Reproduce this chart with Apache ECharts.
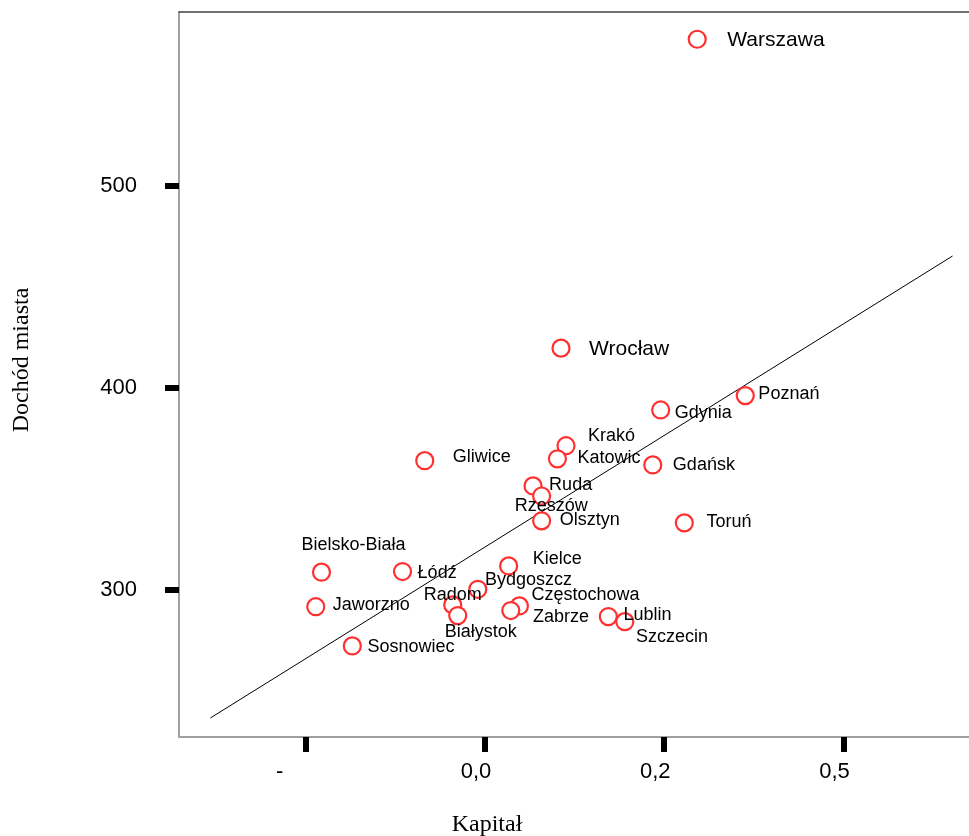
<!DOCTYPE html>
<html>
<head>
<meta charset="utf-8">
<script src="https://cdn.jsdelivr.net/npm/echarts@6/dist/echarts.min.js"></script>
<style>
  html, body { margin: 0; padding: 0; background: #fff; }
  #chart { width: 969px; height: 836px; }
</style>
</head>
<body>
<div id="chart"></div>
<script>
// city names as printed in the chart (some are cut off in the original)
const cities = ["Warszawa", "Wrocław", "Poznań", "Gdynia", "Krakó", "Katowic", "Gdańsk", "Gliwice",
  "Ruda", "Rzeszów", "Olsztyn", "Toruń", "Bielsko-Biała", "Łódź", "Kielce", "Bydgoszcz",
  "Radom", "Białystok", "Jaworzno", "Częstochowa", "Zabrze", "Lublin", "Szczecin", "Sosnowiec"];
const kapital = [0.296, 0.106, 0.363, 0.245, 0.113, 0.101, 0.234, -0.084,
  0.067, 0.079, 0.079, 0.278, -0.228, -0.115, 0.033, -0.010,
  -0.045, -0.038, -0.236, 0.048, 0.036, 0.172, 0.195, -0.185];
const dochod = [572.6, 419.7, 396.2, 389.1, 371.4, 364.9, 361.9, 364.0,
  351.5, 346.5, 334.2, 333.2, 308.8, 309.1, 311.9, 300.3,
  292.6, 287.3, 291.7, 292.1, 289.8, 286.8, 284.3, 272.3];

// fitted line end points
const fitX = [-0.383, 0.652];
const fitY = [236.6, 465.3];

// axis ticks and their printed labels
const xTicks = [-0.25, 0, 0.25, 0.5];
const xTickLabels = ["-", "0,0", "0,2", "0,5"];
const yTicks = [300, 400, 500];

// label placement: [dx from circle centre to text start, dy]
const labelShift = [[29, 1], [27, 1], [12, -2], [13, 3], [21, -10], [19, -1], [19, 0], [27, -4],
  [15, -1], [-28, 10], [17, -1], [21, -1], [-21, -27], [14, 1], [23, -7], [6, -9],
  [-30, -10], [-14, 16], [16, -2], [11, -11], [21, 6], [14, -2], [10, 15], [14, 1]];
const bigLabels = ["Warszawa", "Wrocław"];

const R = 8.5;
let myChart = echarts.init(document.getElementById("chart"));
let option;

const points = cities.map((c, i) => ({
  name: c,
  value: [kapital[i], dochod[i]],
  label: {
    offset: [labelShift[i][0] - R, labelShift[i][1]],
    fontSize: bigLabels.includes(c) ? 21 : 18
  }
}));

const xMin = -0.4267, xMax = 0.675;

option = {
  animation: false,
  backgroundColor: "#fff",
  grid: { left: 179, right: 0, top: 12, bottom: 99 },
  xAxis: [
    {
      type: "value",
      min: xMin,
      max: xMax,
      splitLine: { show: false },
      axisLine: { onZero: false, lineStyle: { color: "#a0a0a0", width: 2 } },
      axisTick: {
        customValues: xTicks,
        length: 15,
        lineStyle: { color: "#000", width: 6 }
      },
      axisLabel: {
        customValues: xTicks,
        margin: 24,
        formatter: (v) => {
          const k = xTicks.findIndex((t) => Math.abs(t - v) < 1e-6);
          const s = k >= 0 ? xTickLabels[k] : "";
          return k === 0 ? "{d|" + s + "}" : "{a|" + s + "}";
        },
        rich: {
          a: { fontSize: 22, fontFamily: "Liberation Sans", color: "#000", padding: [0, 18, 0, 0] },
          d: { fontSize: 22, fontFamily: "Liberation Sans", color: "#000", padding: [0, 52, 0, 0] }
        }
      }
    },
    {
      type: "value",
      position: "top",
      min: xMin,
      max: xMax,
      splitLine: { show: false },
      axisTick: { show: false },
      axisLabel: { show: false },
      axisLine: { onZero: false, lineStyle: { color: "#444", width: 1.5 } }
    }
  ],
  yAxis: {
    type: "value",
    min: 227.2,
    max: 586.1,
    splitLine: { show: false },
    axisLine: { onZero: false, lineStyle: { color: "#a0a0a0", width: 2 } },
    axisTick: {
      customValues: yTicks,
      length: 14,
      lineStyle: { color: "#000", width: 6 }
    },
    axisLabel: {
      customValues: yTicks,
      margin: 42,
      fontSize: 22,
      fontFamily: "Liberation Sans",
      color: "#000"
    }
  },
  graphic: [
    {
      type: "text",
      x: 487,
      y: 825,
      style: {
        text: "Kapitał",
        font: "24px 'Liberation Serif'",
        fill: "#000",
        textAlign: "center",
        textVerticalAlign: "middle"
      }
    },
    {
      type: "text",
      x: 22,
      y: 360,
      rotation: Math.PI / 2,
      style: {
        text: "Dochód miasta",
        font: "24px 'Liberation Serif'",
        fill: "#000",
        textAlign: "center",
        textVerticalAlign: "middle"
      }
    }
  ],
  series: [
    {
      type: "line",
      data: fitX.map((x, i) => [x, fitY[i]]),
      symbol: "none",
      silent: true,
      lineStyle: { color: "#000", width: 1 },
      z: 1
    },
    {
      type: "scatter",
      data: points,
      symbol: "circle",
      symbolSize: 2 * R,
      itemStyle: { color: "#fff", borderColor: "#ff3030", borderWidth: 2.2, opacity: 1 },
      label: {
        show: true,
        position: "right",
        distance: 0,
        formatter: "{b}",
        fontFamily: "Liberation Sans",
        color: "#000"
      },
      z: 3
    }
  ]
};

option && myChart.setOption(option);
</script>
</body>
</html>
